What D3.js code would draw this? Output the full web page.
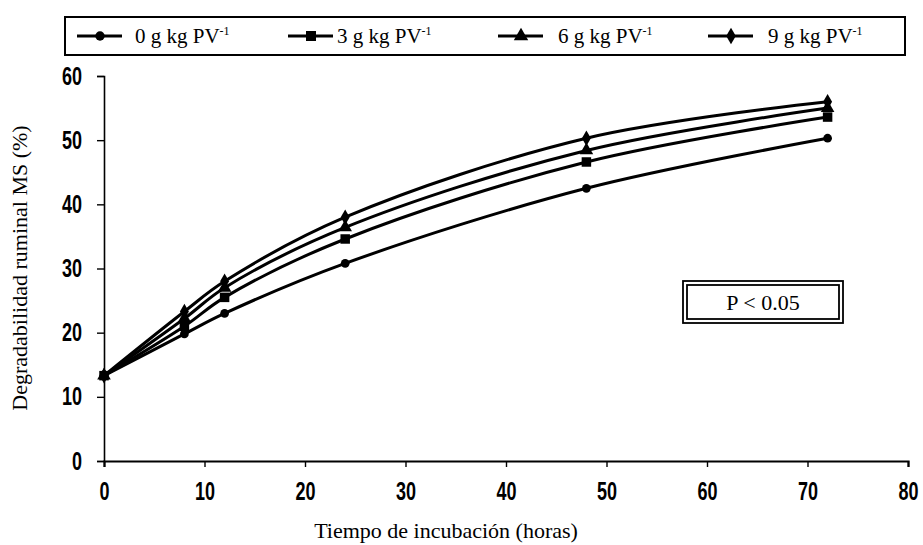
<!DOCTYPE html>
<html>
<head>
<meta charset="utf-8">
<script src="https://cdn.jsdelivr.net/npm/d3@7"></script>
<style>
  body { margin: 0; background: #fff; }
  .tick text { font-family: "Liberation Sans", Arial, sans-serif; font-weight: bold; font-size: 25px; }
</style>
</head>
<body>
<div id="graf"></div>
<script>
// I. Datos
horas = [0, 8, 12, 24, 48, 72]
dosis = ['0', '3', '6', '9']
g0 = [13.3, 19.8, 23.0, 30.8, 42.5, 50.3]
g3 = [13.3, 21.0, 25.5, 34.6, 46.6, 53.6]
g6 = [13.3, 22.2, 27.0, 36.4, 48.4, 55.0]
g9 = [13.3, 23.3, 28.0, 38.0, 50.3, 56.0]
series = [g0, g3, g6, g9]
simbolos = [d3.symbolCircle, d3.symbolSquare, d3.symbolTriangle, d3.symbolDiamond]
tamanos = [60, 90, 80, 70]
xTicks = [0, 10, 20, 30, 40, 50, 60, 70, 80]
yTicks = [0, 10, 20, 30, 40, 50, 60]

serif = '"Liberation Serif", "Times New Roman", serif'
estrecho = 0.72

// II. Configuración
ancho_total = 923
alto_total = 545
margins = { top: 76, left: 104, right: 15, bottom: 84 }
ancho = ancho_total - margins.left - margins.right
alto = alto_total - margins.top - margins.bottom

svg = d3.select('#graf').append('svg')
        .attr('width', ancho_total)
        .attr('height', alto_total)

g = svg.append('g')
       .attr('transform', `translate(${ margins.left }, ${ margins.top })`)

x = d3.scaleLinear().domain([0, 80]).range([0, ancho])
y = d3.scaleLinear().domain([0, 60]).range([alto, 0])

// III. Ejes
xAxisGroup = g.append('g')
              .attr('transform', `translate(0, ${ alto })`)
              .call(d3.axisBottom(x).tickValues(xTicks).tickSize(6).tickPadding(15).tickFormat(d3.format('d')))
yAxisGroup = g.append('g')
              .call(d3.axisLeft(y).tickValues(yTicks).tickSize(7).tickPadding(15).tickFormat(d3.format('d')))

// números estrechos, como en el original
g.selectAll('.tick text').each(function() {
  el = d3.select(this)
  el.attr('x', (+el.attr('x') || 0) / estrecho)
    .attr('transform', `scale(${ estrecho }, 1)`)
})

g.selectAll('.domain').attr('stroke', '#000').attr('stroke-width', 1.6)
g.selectAll('.tick line').attr('stroke', '#000').attr('stroke-width', 1.4)
xAxisGroup.selectAll('.domain').attr('stroke-width', 2.2)

// IV. Líneas y marcadores
linea = d3.line()
          .x((d, i) => x(horas[i]))
          .y(d => y(d))
          .curve(d3.curveCatmullRom.alpha(0.5))

series.forEach((s, k) => {
  g.append('path')
   .attr('d', linea(s))
   .attr('fill', 'none')
   .attr('stroke', '#000')
   .attr('stroke-width', 3)

  g.selectAll(`.m${k}`)
   .data(s)
   .enter()
   .append('path')
     .attr('class', `m${k}`)
     .attr('transform', (d, i) => `translate(${ x(horas[i]) }, ${ y(d) })`)
     .attr('d', d3.symbol().type(simbolos[k]).size(tamanos[k]))
     .attr('fill', '#000')
})

// V. Títulos de ejes
svg.append('text')
   .attr('x', 446)
   .attr('y', 538)
   .attr('text-anchor', 'middle')
   .style('font-family', serif)
   .style('font-size', '22px')
   .text('Tiempo de incubación (horas)')

svg.append('text')
   .attr('transform', 'translate(27, 268) rotate(-90)')
   .attr('text-anchor', 'middle')
   .style('font-family', serif)
   .style('font-size', '22px')
   .text('Degradabilidad ruminal MS (%)')

// VI. Leyenda
leyenda = svg.append('g')
leyenda.append('rect')
       .attr('x', 65).attr('y', 17)
       .attr('width', 840).attr('height', 38)
       .attr('fill', 'none')
       .attr('stroke', '#000')
       .attr('stroke-width', 2)

legX = [77, 288, 498, 708]
dosis.forEach((dd, k) => {
  item = leyenda.append('g').attr('transform', `translate(${ legX[k] }, 36)`)
  item.append('line')
      .attr('x1', 0).attr('x2', 45)
      .attr('stroke', '#000').attr('stroke-width', 3)
  item.append('path')
      .attr('transform', 'translate(23, 0)')
      .attr('d', d3.symbol().type(simbolos[k]).size(tamanos[k] + 10))
      .attr('fill', '#000')
  t = item.append('text')
          .attr('x', k < 2 ? (k == 0 ? 58 : 49) : 60)
          .attr('y', 7)
          .style('font-family', serif)
          .style('font-size', '21px')
  t.append('tspan').text(`${ dd } g kg PV`)
  t.append('tspan').attr('dy', -8).style('font-size', '12px').text('-1')
})

// VII. Recuadro P < 0.05
caja = svg.append('g')
caja.append('rect')
    .attr('x', 683).attr('y', 281)
    .attr('width', 160).attr('height', 42)
    .attr('fill', 'none').attr('stroke', '#000').attr('stroke-width', 1.8)
caja.append('rect')
    .attr('x', 687).attr('y', 285)
    .attr('width', 152).attr('height', 34)
    .attr('fill', 'none').attr('stroke', '#000').attr('stroke-width', 1.8)
caja.append('text')
    .attr('x', 763).attr('y', 310)
    .attr('text-anchor', 'middle')
    .style('font-family', serif)
    .style('font-size', '22px')
    .text('P < 0.05')
</script>
</body>
</html>
